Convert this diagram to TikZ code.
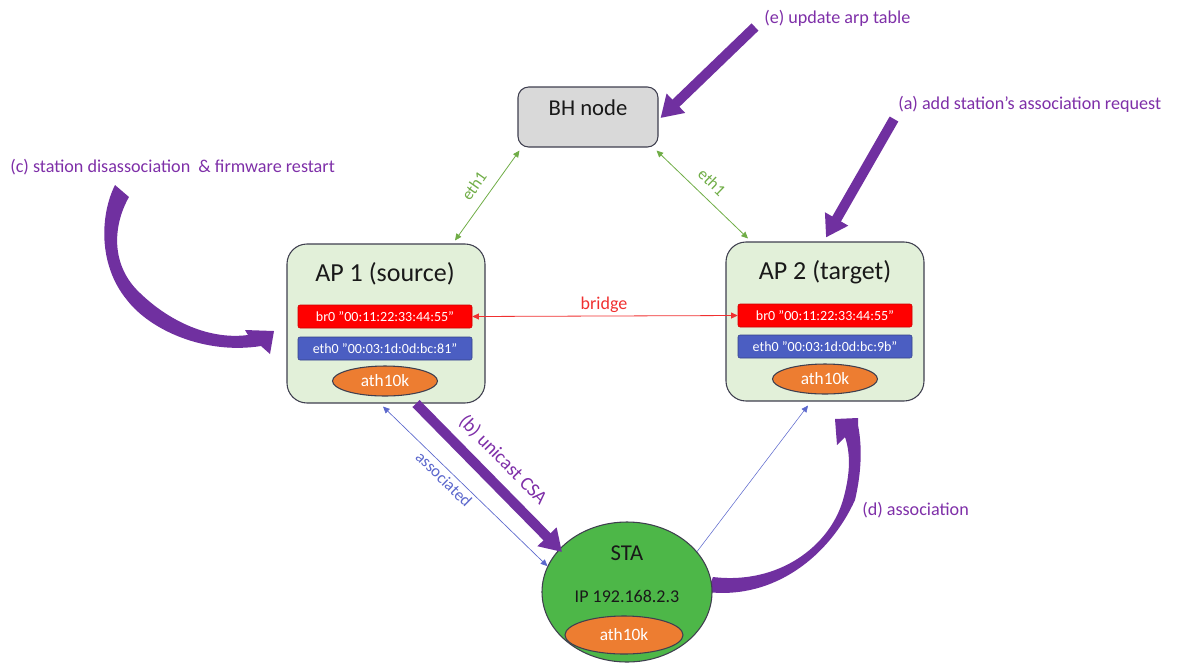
\documentclass[tikz,border=0pt]{standalone}
\usepackage{fontspec}
\setmainfont{Carlito}
\usetikzlibrary{shapes.geometric,arrows.meta,calc}
\definecolor{purp}{HTML}{7030A0}
\definecolor{ptext}{HTML}{7E2FA8}
\definecolor{apfill}{HTML}{E2F0D9}
\definecolor{bhfill}{HTML}{D9D9D9}
\definecolor{edgec}{HTML}{3F3F4F}
\definecolor{brc}{HTML}{FF0000}
\definecolor{ethc}{HTML}{4B5EC2}
\definecolor{orng}{HTML}{ED7D31}
\definecolor{stag}{HTML}{4DB748}
\definecolor{gline}{HTML}{70AD47}
\definecolor{bline}{HTML}{5B67CC}
\definecolor{rline}{HTML}{F03030}
\begin{document}
\begin{tikzpicture}[x=0.75pt,y=-0.75pt,
  apbox/.style={draw=edgec,line width=0.8pt,fill=apfill,rounded corners=15pt,minimum width=148.5pt,minimum height=119.25pt},
  bhbox/.style={draw=edgec,line width=0.8pt,fill=bhfill,rounded corners=8pt,minimum width=105pt,minimum height=45pt},
  title/.style={font=\fontsize{19.5}{22}\selectfont,text=black!90},
  brbar/.style={draw=brc!80!black,line width=0.4pt,fill=brc,text=white,rounded corners=1.5pt,minimum width=130.5pt,minimum height=17.25pt,inner sep=0pt,font=\fontsize{10.5}{12}\selectfont},
  ethbar/.style={draw=ethc!70!black,line width=0.4pt,fill=ethc,text=white,rounded corners=1.5pt,minimum width=130.5pt,minimum height=17.25pt,inner sep=0pt,font=\fontsize{10.5}{12}\selectfont},
  athell/.style={ellipse,draw=edgec,line width=0.8pt,fill=orng,text=white,inner sep=0pt,minimum width=78.75pt,minimum height=22.5pt,font=\fontsize{13}{15}\selectfont},
  staell/.style={ellipse,draw=edgec,line width=0.8pt,fill=stag,inner sep=0pt,minimum width=127.5pt,minimum height=105pt},
  lbl/.style={text=ptext,font=\fontsize{13.6}{16}\selectfont,inner sep=0pt},
  thickarrow/.style={draw=purp,line width=7.5pt,-{Triangle[length=16pt,width=19pt]}},
  gconn/.style={draw=gline,line width=0.6pt,{Triangle[length=5pt,width=4.5pt]}-{Triangle[length=5pt,width=4.5pt]}},
  rconn/.style={draw=rline,line width=0.6pt,{Triangle[length=5pt,width=4.5pt]}-{Triangle[length=5pt,width=4.5pt]}},
  bconn/.style={draw=bline,line width=0.5pt,{Triangle[length=5pt,width=4.5pt]}-{Triangle[length=5pt,width=4.5pt]}},
  bconnone/.style={draw=bline,line width=0.4pt,-{Triangle[length=5pt,width=4.5pt]}}
]
\useasboundingbox (0,0) rectangle (1179,662);

% curved arrow (c)
\fill[purp] (115,185) -- (129,197)
  .. controls (113,225) and (110,265) .. (140,293)
  .. controls (170,322) and (210,340) .. (248,335)
  -- (245,330) -- (274,331) -- (270,354) -- (261,346)
  .. controls (205,355) and (150,330) .. (127,300)
  .. controls (98,265) and (100,215) .. (115,185) -- cycle;
% curved arrow (d)
\fill[purp] (707,592)
  .. controls (775,600) and (830,555) .. (855,500)
  .. controls (862,470) and (862,445) .. (858,425)
  -- (858,418) -- (835,419) -- (837,445) -- (845,437)
  .. controls (851,455) and (850,475) .. (843,500)
  .. controls (830,545) and (780,585) .. (713,577) -- cycle;

% nodes
\node[bhbox] (bh) at (588,117) {};
\node[font=\fontsize{17}{20}\selectfont,text=black!90] (bhtxt) at (588,108) {BH node};
\node[apbox] (ap1) at (386,323.5) {};
\node[apbox] (ap2) at (825,321.5) {};
\node[title] (t1) at (385,274) {AP 1 (source)};
\node[title] (t2) at (825,272) {AP 2 (target)};
\node[brbar] (br1) at (385,316.5) {br0 "00:11:22:33:44:55"};
\node[brbar] (br2) at (825,315.5) {br0 "00:11:22:33:44:55"};
\node[ethbar] (eth1) at (385,348.5) {eth0 "00:03:1d:0d:bc:81"};
\node[ethbar] (eth2) at (825,346.5) {eth0 "00:03:1d:0d:bc:9b"};
\node[athell] (ath1) at (385,381) {ath10k};
\node[athell] (ath2) at (825,379) {ath10k};
\node[staell] (sta) at (627,592) {};
\node[font=\fontsize{17}{19}\selectfont,text=black!90] (statxt) at (627,553) {STA};
\node[font=\fontsize{13.5}{16}\selectfont,text=black!90] (ip) at (627,596) {IP 192.168.2.3};
\node[athell,minimum width=88.5pt,minimum height=28.5pt] (ath3) at (624,635) {ath10k};

% connectors
\draw[gconn] ($(bh.south west)+(2,3)$) -- ($(ap1.north)+(69,-3)$);
\draw[gconn] ($(bh.south east)+(-2,3)$) -- ($(ap2.north)+(-77,-3)$);
\draw[rconn] (br1.east) -- (br2.west);
\draw[bconn] ($(ap1.south)+(-3,3)$) -- (sta.162);
\draw[bconnone] (sta.30) -- ($(ap2.south)+(-17,4)$);

\node[text=gline,font=\fontsize{12.5}{14}\selectfont,rotate=55] (l1) at (474,186) {eth1};
\node[text=gline,font=\fontsize{12.5}{14}\selectfont,rotate=-44] (l2) at (712,182) {eth1};
\node[text=rline,font=\fontsize{13.5}{16}\selectfont] (lbr) at (604,305) {bridge};
\node[text=bline,font=\fontsize{12.5}{14}\selectfont,rotate=-44.5] (las) at (444,479) {associated};

% thick straight arrows
\coordinate (es) at (755,27);
\coordinate (as) at (894,119);
\draw[thickarrow] (es) -- ($(bh.east)+(2,1)$);
\draw[thickarrow] (as) -- ($(ap2.north)+(1,-4)$);
\draw[thickarrow] ($(ap1.south)+(30,0)$) -- ($(sta.center)+(-65,-40)$);

% labels
\node[lbl,anchor=west] (le) at (764,18) {(e) update arp table};
\node[lbl,anchor=west] (la) at (898,104) {(a) add station's association request};
\node[lbl,anchor=west] (lc) at (10,167) {(c) station disassociation\ \ \& firmware restart};
\node[lbl,anchor=west] (ld) at (862,510) {(d) association};
\node[lbl,font=\fontsize{14.5}{17}\selectfont,rotate=-45.6] (lb) at (503,460) {(b) unicast CSA};
\end{tikzpicture}
\end{document}
